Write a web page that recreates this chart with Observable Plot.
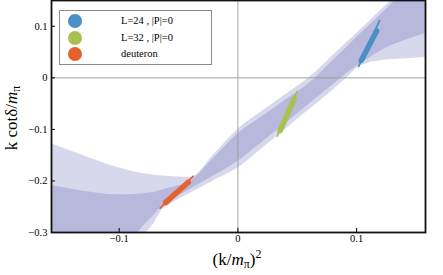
<!DOCTYPE html>
<html><head><meta charset="utf-8">
<script src="https://cdn.jsdelivr.net/npm/d3@7"></script>
<script src="https://cdn.jsdelivr.net/npm/@observablehq/plot@0.6"></script>
<style>
body{margin:0;background:#fff}
#wrap{position:relative;width:443px;height:275px;font-family:"Liberation Serif","Times New Roman",serif;color:#000}
#wrap svg{position:absolute;left:0;top:0}
.ylab{position:absolute;left:13px;top:118px;transform:translate(-50%,-50%) rotate(-90deg);font-size:17px;white-space:nowrap;line-height:1}
.xlab{position:absolute;left:237px;top:260px;transform:translate(-50%,-50%);font-size:17px;white-space:nowrap;line-height:1}
.legend{position:absolute;left:59px;top:10px;width:153px;height:55px;border:1px solid #8a8a8a;background:#fff;box-sizing:border-box}
.item{position:absolute;left:0;height:16px;width:150px;font-size:10.5px;line-height:16px}
.item .dot{position:absolute;left:8px;top:1px;width:14px;height:14px;border-radius:50%}
.item .txt{position:absolute;left:61px;top:0;white-space:nowrap}
sub{font-size:70%;vertical-align:-0.3em}
sup{font-size:70%;vertical-align:0.6em}
</style></head><body><div id="wrap"></div>
<script>
// axes
const xDomain = [-0.157, 0.158];
const yDomain = [-0.3, 0.15];
const xTicks = [-0.1, 0, 0.1];
const yTicks = [-0.3, -0.2, -0.1, 0, 0.1];

// fit bands: two overlapping translucent bands
const bandX      = [-0.157, -0.13, -0.10, -0.084, -0.0767, -0.07, -0.0655, -0.055, -0.04, -0.02, 0, 0.02, 0.04, 0.06, 0.08, 0.092, 0.1017, 0.11, 0.12, 0.14, 0.158];
const bandAUpper = [-0.128, -0.151, -0.175, -0.184, -0.187, -0.189, -0.190, -0.192, -0.193, -0.148, -0.100, -0.066, -0.033, 0.000, 0.043, 0.069, 0.090, 0.108, 0.130, 0.174, 0.213];
const bandALower = [-0.65, -0.52, -0.40, -0.325, -0.300, -0.280, -0.262, -0.243, -0.224, -0.199, -0.175, -0.138, -0.100, -0.062, -0.024, 0.000, 0.021, 0.029, 0.033, 0.037, 0.0396];
const bandBUpper = [-0.209, -0.220, -0.227, -0.226, -0.224, -0.222, -0.219, -0.212, -0.2005, -0.155, -0.1085, -0.076, -0.0435, -0.011, 0.033, 0.060, 0.082, 0.100, 0.122, 0.167, 0.207];
const bandBLower = [-0.55, -0.45, -0.345, -0.300, -0.280, -0.265, -0.2528, -0.236, -0.216, -0.190, -0.162, -0.126, -0.089, -0.051, -0.014, 0.009, 0.025, 0.037, 0.052, 0.072, 0.086];

// data points (error ellipses as segments)
const series  = ["L=24 , |P|=0", "L=32 , |P|=0", "deuteron"];
const colors  = ["#4a8fc5", "#a9c151", "#e5612f"];
const outerX1 = [0.1017, 0.0331, -0.0655];
const outerY1 = [0.022, -0.1131, -0.2528];
const outerX2 = [0.1193, 0.0499, -0.0378];
const outerY2 = [0.111, -0.0267, -0.191];
const innerX1 = [0.1040, 0.0355, -0.0608];
const innerY1 = [0.034, -0.1025, -0.2415];
const innerX2 = [0.1168, 0.0475, -0.0418];
const innerY2 = [0.091, -0.041, -0.2025];

const bands = bandX.map((x, i) => ({x, a1: bandALower[i], a2: bandAUpper[i], b1: bandBLower[i], b2: bandBUpper[i]}));
const pts = series.map((s, i) => ({s, c: colors[i],
  ox1: outerX1[i], oy1: outerY1[i], ox2: outerX2[i], oy2: outerY2[i],
  ix1: innerX1[i], iy1: innerY1[i], ix2: innerX2[i], iy2: innerY2[i]}));

const bandFill = "rgb(60,60,160)";
const font = "Liberation Serif, Times New Roman, serif";
const fmt = d3.format("~g");

const chart = Plot.plot({
  width: 443, height: 275,
  marginLeft: 51, marginRight: 18, marginTop: 0, marginBottom: 43,
  style: {fontFamily: font, fontSize: "10.5px", background: "transparent", color: "#000"},
  x: {domain: xDomain},
  y: {domain: yDomain},
  marks: [
    Plot.areaY(bands, {x: "x", y1: "a1", y2: "a2", fill: bandFill, fillOpacity: 0.2, curve: "monotone-x", clip: true}),
    Plot.areaY(bands, {x: "x", y1: "b1", y2: "b2", fill: bandFill, fillOpacity: 0.2, curve: "monotone-x", clip: true}),
    Plot.ruleX([0], {stroke: "#9a9a9a", strokeWidth: 0.9}),
    Plot.ruleY([0], {stroke: "#9a9a9a", strokeWidth: 0.9}),
    Plot.link(pts, {x1: "ox1", y1: "oy1", x2: "ox2", y2: "oy2", stroke: "c", strokeWidth: 1.8, strokeLinecap: "round"}),
    Plot.link(pts, {x1: "ix1", y1: "iy1", x2: "ix2", y2: "iy2", stroke: "c", strokeWidth: 5.5, strokeLinecap: "round"}),
    Plot.axisX({ticks: xTicks, tickFormat: fmt, tickSize: -4, tickPadding: 6, label: null, fontSize: 10.5, fontFamily: font}),
    Plot.axisY({ticks: yTicks, tickFormat: fmt, tickSize: -4, tickPadding: 8, label: null, fontSize: 10.5, fontFamily: font}),
    Plot.frame({stroke: "#111", strokeWidth: 1.8})
  ]
});

const wrap = document.getElementById("wrap");
wrap.appendChild(chart);

const yl = document.createElement("div");
yl.className = "ylab";
yl.innerHTML = "k cot\u03B4/<i>m</i><sub>\u03C0</sub>";
wrap.appendChild(yl);

const xl = document.createElement("div");
xl.className = "xlab";
xl.innerHTML = "(k/<i>m</i><sub>\u03C0</sub>)<sup>2</sup>";
wrap.appendChild(xl);

const lg = document.createElement("div");
lg.className = "legend";
series.forEach((s, i) => {
  const it = document.createElement("div");
  it.className = "item";
  it.style.top = (2 + i * 16.7) + "px";
  it.innerHTML = `<span class="dot" style="background:${colors[i]}"></span><span class="txt">${s}</span>`;
  lg.appendChild(it);
});
wrap.appendChild(lg);
</script></body></html>
